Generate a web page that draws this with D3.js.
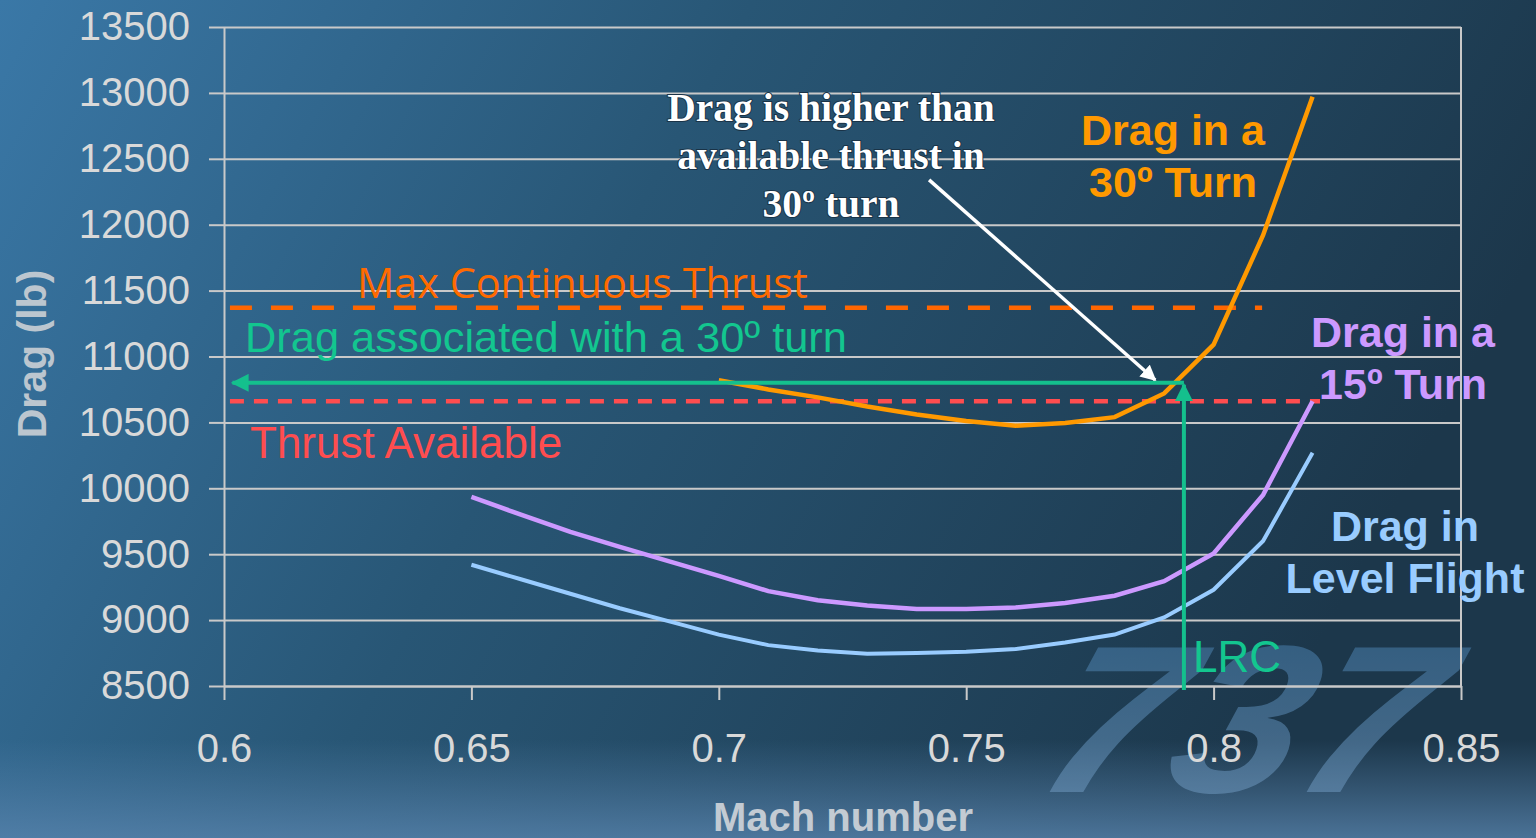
<!DOCTYPE html>
<html>
<head>
<meta charset="utf-8">
<script src="https://cdn.jsdelivr.net/npm/d3@7"></script>
<style>
  body { margin:0; padding:0; overflow:hidden; }
  #chart { width:1536px; height:838px; }
  text { font-family: "Liberation Sans", Arial, sans-serif; }
</style>
</head>
<body>
<div id="chart"></div>
<script>
// mach numbers on the curves
var mach = [0.65, 0.66, 0.67, 0.68, 0.69, 0.70, 0.71, 0.72, 0.73, 0.74, 0.75, 0.76, 0.77, 0.78, 0.79, 0.80, 0.81, 0.82];
// drag in level flight (lb)
var levelDrag = [9420, 9310, 9200, 9090, 8990, 8890, 8810, 8770, 8745, 8750, 8760, 8780, 8830, 8890, 9020, 9230, 9600, 10270];
// drag in a 15 deg turn
var turn15Drag = [9935, 9800, 9670, 9555, 9445, 9335, 9220, 9150, 9110, 9085, 9085, 9095, 9130, 9185, 9295, 9505, 9950, 10660];
// drag in a 30 deg turn, starts at 0.70
var turn30Mach = [0.70, 0.71, 0.72, 0.73, 0.74, 0.75, 0.76, 0.77, 0.78, 0.79, 0.80, 0.81, 0.82];
var turn30Drag = [10820, 10750, 10690, 10620, 10560, 10510, 10475, 10495, 10540, 10720, 11090, 11920, 12970];

var xTicks = [0.6, 0.65, 0.7, 0.75, 0.8, 0.85];
var yTicks = [8500, 9000, 9500, 10000, 10500, 11000, 11500, 12000, 12500, 13000, 13500];

var maxContThrust = 11370;   // orange dashed
var thrustAvail = 10660;     // red dashed
var turnDragLevel = 10800;   // green horizontal arrow
var lrcMach = 0.794;         // green vertical arrow

var w = 1536, h = 838;
var svg = d3.select("#chart").append("svg").attr("width", w).attr("height", h);
var defs = svg.append("defs");

// background
var bg = defs.append("linearGradient").attr("id", "bg").attr("x1", "0").attr("y1", "0").attr("x2", "1").attr("y2", "0.3");
bg.append("stop").attr("offset", "0").attr("stop-color", "#3a78a7");
bg.append("stop").attr("offset", "0.45").attr("stop-color", "#285675");
bg.append("stop").attr("offset", "1").attr("stop-color", "#1c374b");
var bot = defs.append("linearGradient").attr("id", "bot").attr("x1", "0").attr("y1", "0").attr("x2", "0").attr("y2", "1");
bot.append("stop").attr("offset", "0").attr("stop-color", "#5a86b0").attr("stop-opacity", 0);
bot.append("stop").attr("offset", "1").attr("stop-color", "#5a86b0").attr("stop-opacity", 0.75);
var wm = defs.append("linearGradient").attr("id", "wm").attr("x1", "0").attr("y1", "0").attr("x2", "0").attr("y2", "1");
wm.append("stop").attr("offset", "0").attr("stop-color", "#3f78a8");
wm.append("stop").attr("offset", "1").attr("stop-color", "#7aa0c4");

svg.append("rect").attr("width", w).attr("height", h).attr("fill", "url(#bg)");
svg.append("rect").attr("y", 740).attr("width", w).attr("height", 98).attr("fill", "url(#bot)");

// 737 watermark (skewed and stretched like the logo)
svg.append("text").attr("x", 0).attr("y", 0)
    .attr("transform", "translate(1030,792) skewX(-18) scale(1.1,1)")
    .style("font-size", "210px").style("font-weight", "bold").style("font-style", "italic")
    .attr("fill", "url(#wm)").attr("opacity", 0.55)
    .text("737");

for (var i = 0; i < 2; i++) {
    defs.append("marker").attr("id", "arrow" + i);
}
function marker(id, color) {
    defs.select("#" + id)
        .attr("viewBox", "0 0 10 10").attr("refX", 9).attr("refY", 5)
        .attr("markerWidth", 4.5).attr("markerHeight", 4.5).attr("orient", "auto-start-reverse")
        .attr("markerUnits", "strokeWidth")
        .append("path").attr("d", "M0,0 L10,5 L0,10 z").attr("fill", color);
}
marker("arrow0", "#14c08d");
marker("arrow1", "#ffffff");

var x = d3.scaleLinear().domain([0.6, 0.85]).range([224, 1461]);
var y = d3.scaleLinear().domain([8500, 13500]).range([686, 27]);

// grid
svg.append("g").attr("transform", "translate(224,0)")
    .call(d3.axisLeft(y).tickValues(yTicks).tickSize(-(1461 - 224)).tickFormat(""))
    .call(function(g){ g.select(".domain").remove(); })
    .selectAll("line").attr("stroke", "#c9c9c9").attr("stroke-width", 2);

var yAxis = svg.append("g").attr("transform", "translate(224,0)")
    .call(d3.axisLeft(y).tickValues(yTicks).tickSize(15).tickSizeOuter(0).tickPadding(19).tickFormat(d3.format("d")));
var xAxis = svg.append("g").attr("transform", "translate(0,686)")
    .call(d3.axisBottom(x).tickValues(xTicks).tickSize(14).tickSizeOuter(0).tickPadding(34).tickFormat(function(d){ return d; }));
[yAxis, xAxis].forEach(function(a){
    a.select(".domain").attr("stroke", "#c9c9c9").attr("stroke-width", 2);
    a.selectAll("line").attr("stroke", "#c9c9c9").attr("stroke-width", 2);
    a.selectAll("text").attr("fill", "#d9d9d9").style("font-size", "40px")
        .style("font-family", "'Liberation Sans', Arial, sans-serif");
});
// right border
svg.append("line").attr("x1", x(0.85)).attr("x2", x(0.85)).attr("y1", y(13500)).attr("y2", y(8500))
    .attr("stroke", "#c9c9c9").attr("stroke-width", 2);

// axis titles
svg.append("text").attr("transform", "translate(46," + 354 + ") rotate(-90)")
    .attr("text-anchor", "middle").attr("fill", "#bcc6cf")
    .style("font-size", "41px").style("font-weight", "bold").text("Drag (lb)");
svg.append("text").attr("x", 843).attr("y", 831).attr("text-anchor", "middle").attr("fill", "#c3cbd3")
    .style("font-size", "40px").style("font-weight", "bold").text("Mach number");

// thrust lines
svg.append("line").attr("x1", x(0.6012)).attr("x2", x(0.8098)).attr("y1", y(maxContThrust)).attr("y2", y(maxContThrust))
    .attr("stroke", "#ff6600").attr("stroke-width", 4.5).attr("stroke-dasharray", "22,19");
svg.append("line").attr("x1", x(0.6012)).attr("x2", x(0.8215)).attr("y1", y(thrustAvail)).attr("y2", y(thrustAvail))
    .attr("stroke", "#ff4d4f").attr("stroke-width", 4.5).attr("stroke-dasharray", "14,10");

// curves
var line = d3.line().x(function(d){ return x(d[0]); }).y(function(d){ return y(d[1]); });
function pairs(xs, ys) { return xs.map(function(v, i){ return [v, ys[i]]; }); }

svg.append("path").datum(pairs(mach, levelDrag)).attr("d", line)
    .attr("fill", "none").attr("stroke", "#99ccff").attr("stroke-width", 4);
svg.append("path").datum(pairs(mach, turn15Drag)).attr("d", line)
    .attr("fill", "none").attr("stroke", "#cc99ff").attr("stroke-width", 4.5);
svg.append("path").datum(pairs(turn30Mach, turn30Drag)).attr("d", line)
    .attr("fill", "none").attr("stroke", "#ff9900").attr("stroke-width", 4.5);

// LRC arrows
svg.append("line").attr("x1", x(lrcMach)).attr("x2", x(0.6017)).attr("y1", y(turnDragLevel)).attr("y2", y(turnDragLevel))
    .attr("stroke", "#14c08d").attr("stroke-width", 4).attr("marker-end", "url(#arrow0)");
svg.append("line").attr("x1", x(lrcMach)).attr("x2", x(lrcMach)).attr("y1", y(8470)).attr("y2", y(turnDragLevel) + 2)
    .attr("stroke", "#14c08d").attr("stroke-width", 4).attr("marker-end", "url(#arrow0)");

// white arrow
svg.append("line").attr("x1", x(0.7425)).attr("y1", y(12340)).attr("x2", x(0.7882)).attr("y2", y(10822))
    .attr("stroke", "#ffffff").attr("stroke-width", 3.5).attr("marker-end", "url(#arrow1)");

// labels
function label(tx, ty, str, color, size, weight, anchor, family) {
    return svg.append("text").attr("x", tx).attr("y", ty).attr("text-anchor", anchor || "start")
        .attr("fill", color).style("font-size", size + "px").style("font-weight", weight || "normal")
        .style("font-family", family || "'Liberation Sans', Arial, sans-serif")
        .text(str);
}
var serif = "'Liberation Serif', 'Times New Roman', serif";
["Drag is higher than", "available thrust in", "30\u00ba turn"].forEach(function(s, i){
    label(831, 121 + i * 48, s, "#ffffff", 39.5, "bold", "middle", serif)
        .style("paint-order", "stroke").attr("stroke", "#1a3347").attr("stroke-width", 2);
});
label(357, 298, "Max Continuous Thrust", "#ff6a00", 41.4, "normal", "start", "'Open Sans', sans-serif");
label(245, 352, "Drag associated with a 30\u00ba turn", "#13c68f", 43.4);
label(250, 458, "Thrust Available", "#ff4d4f", 44);
label(1193, 672, "LRC", "#13c68f", 44);

label(1173, 145, "Drag in a", "#ff9900", 43, "bold", "middle");
label(1173, 197, "30\u00ba Turn", "#ff9900", 43, "bold", "middle");
label(1403, 347, "Drag in a", "#cc99ff", 43, "bold", "middle");
label(1403, 399, "15\u00ba Turn", "#cc99ff", 43, "bold", "middle");
label(1405, 541, "Drag in", "#99ccff", 43, "bold", "middle");
label(1405, 593, "Level Flight", "#99ccff", 43, "bold", "middle");
</script>
</body>
</html>
